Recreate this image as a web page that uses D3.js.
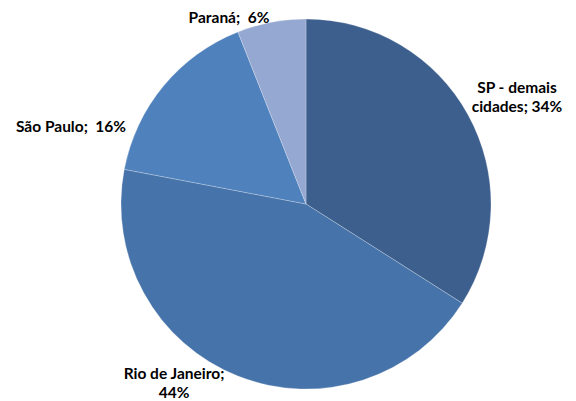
<!DOCTYPE html>
<html>
<head>
<meta charset="utf-8">
<script src="https://cdn.jsdelivr.net/npm/d3@7"></script>
<style>
  html, body { margin: 0; padding: 0; background: #fff; }
  svg { display: block; }
  .lbl { font-family: Lato, "Open Sans", sans-serif; font-weight: bold; font-size: 15.5px; fill: #000; }
</style>
</head>
<body>
<svg id="chart" width="576" height="401"></svg>
<script>
// Share of entries by region (percent)
const categories = ["SP - demais cidades", "Rio de Janeiro", "São Paulo", "Paraná"];
const values = [34, 44, 16, 6];
const labelLines = [
  ["SP - demais", "cidades; 34%"],
  ["Rio de Janeiro;", "44%"],
  ["São Paulo;  16%"],
  ["Paraná;  6%"]
];
const colors = ["#3D5F8E", "#4673A9", "#4F81BD", "#95A8D1"];

// Label anchor points, relative to the pie centre
const labelOffsets = [[211, -107], [-132, 179], [-235, -77], [-77, -186]];

const width = 576, height = 401;
const cx = 306, cy = 204, radius = 185;

const svg = d3.select("#chart");
const g = svg.append("g").attr("transform", `translate(${cx},${cy})`);

const pie = d3.pie().sort(null).value(d => d)(values);
const arc = d3.arc().innerRadius(0).outerRadius(radius);

g.selectAll("path.slice")
  .data(pie)
  .join("path")
  .attr("class", "slice")
  .attr("d", arc)
  .attr("fill", (d, i) => colors[i])
  .attr("stroke", "rgba(255,255,255,0.35)")
  .attr("stroke-width", 0.7);

const lineH = 19;
const labels = g.selectAll("text.lbl")
  .data(pie)
  .join("text")
  .attr("class", "lbl")
  .attr("text-anchor", "middle")
  .attr("x", (d, i) => labelOffsets[i][0])
  .attr("y", (d, i) => labelOffsets[i][1]);

labels.each(function(d, i) {
  const lines = labelLines[i];
  const t = d3.select(this);
  lines.forEach((s, k) => {
    t.append("tspan")
      .attr("x", labelOffsets[i][0])
      .attr("dy", k === 0 ? (-(lines.length - 1) * lineH / 2 + 5) : lineH)
      .style("white-space", "pre")
      .text(s);
  });
});
</script>
</body>
</html>
